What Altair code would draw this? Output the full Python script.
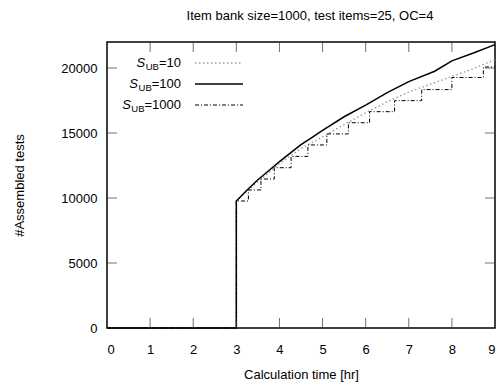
import altair as alt
import pandas as pd

TITLE = "Item bank size=1000, test items=25, OC=4"
X_TITLE = "Calculation time [hr]"
Y_TITLE = "#Assembled tests"

X_TICKS = [0, 1, 2, 3, 4, 5, 6, 7, 8, 9]
Y_TICKS = [0, 5000, 10000, 15000, 20000]

# S_UB=10 (dotted)
s10_t = [0, 3, 3, 3.25, 3.5, 3.75, 4, 4.5, 5, 5.5, 6, 6.5, 7, 7.5, 8, 8.5, 9]
s10_v = [0, 0, 9770, 10550, 11250, 11950, 12650, 13800, 14700, 15650, 16550, 17400, 18150, 18750, 19350, 19950, 20650]

# S_UB=100 (solid)
s100_t = [0, 3, 3, 3.25, 3.5, 3.75, 4, 4.25, 4.5, 4.75, 5, 5.5, 6, 6.5, 7, 7.6, 8.0, 8.5, 9]
s100_v = [0, 0, 9770, 10620, 11400, 12100, 12800, 13450, 14100, 14650, 15200, 16250, 17150, 18100, 18950, 19750, 20550, 21150, 21800]

# S_UB=1000 (dash-dot, step)
s1000_t = [0, 3, 3.28, 3.57, 3.88, 4.27, 4.66, 5.10, 5.60, 6.09, 6.67, 7.30, 8.00, 8.73, 9]
s1000_v = [0, 9770, 10620, 11460, 12330, 13200, 14080, 14930, 15790, 16640, 17490, 18340, 19270, 20080, 20080]

SERIES = ["S_UB=10", "S_UB=100", "S_UB=1000"]
LEGEND_EQ = ["=10", "=100", "=1000"]

FONT = "Liberation Sans"
W, H = 388, 286

def frame(ts, vs, name):
    return pd.DataFrame({"t": ts, "v": vs, "i": list(range(len(ts))), "series": name})

xscale = alt.Scale(domain=[0, 9], nice=False, zero=False)
yscale = alt.Scale(domain=[0, 22000], nice=False)

xaxis = alt.Axis(values=X_TICKS, tickSize=0, domain=False, grid=False,
                 labelPadding=15, labelFontSize=13, labelFont=FONT, labelColor="black",
                 title=X_TITLE, titleFont=FONT, titleFontSize=13, titleFontWeight="normal",
                 titlePadding=12, titleColor="black", format="d")
yaxis = alt.Axis(values=Y_TICKS, tickSize=0, domain=False, grid=False,
                 labelPadding=10, labelFontSize=13, labelFont=FONT, labelColor="black",
                 title=Y_TITLE, titleFont=FONT, titleFontSize=13, titleFontWeight="normal",
                 titlePadding=34, titleColor="black", format="d")

def X():
    return alt.X("t:Q", scale=xscale, axis=xaxis)

def Y():
    return alt.Y("v:Q", scale=yscale, axis=yaxis)

l10 = alt.Chart(frame(s10_t, s10_v, SERIES[0])).mark_line(
    color="#9a9a9a", strokeWidth=1.4, strokeDash=[1.5, 2.5]).encode(x=X(), y=Y(), order="i:Q")
l100 = alt.Chart(frame(s100_t, s100_v, SERIES[1])).mark_line(
    color="black", strokeWidth=1.5).encode(x=X(), y=Y(), order="i:Q")
l1000 = alt.Chart(frame(s1000_t, s1000_v, SERIES[2])).mark_line(
    color="black", strokeWidth=1, strokeDash=[4, 2, 1, 2], interpolate="step-after").encode(
    x=X(), y=Y(), order="i:Q")

xt = pd.DataFrame({"t": X_TICKS[1:-1]})
yt = pd.DataFrame({"v": Y_TICKS[1:]})
tick_col = "#333333"
xb = alt.Chart(xt).mark_tick(orient="vertical", size=10, thickness=1, color=tick_col).encode(
    x=X(), y=alt.value(H - 5))
xtp = alt.Chart(xt).mark_tick(orient="vertical", size=10, thickness=1, color=tick_col).encode(
    x=X(), y=alt.value(5))
yl = alt.Chart(yt).mark_tick(orient="horizontal", size=10, thickness=1, color=tick_col).encode(
    y=Y(), x=alt.value(5))
yr = alt.Chart(yt).mark_tick(orient="horizontal", size=10, thickness=1, color=tick_col).encode(
    y=Y(), x=alt.value(W - 5))

# manual legend (subscripts)
styles = [
    dict(color="#9a9a9a", strokeWidth=1.4, strokeDash=[1.5, 2.5]),
    dict(color="black", strokeWidth=1.5),
    dict(color="black", strokeWidth=1, strokeDash=[4, 2, 1, 2]),
]
row_y = [21, 42, 63]
text_right = 74
legend_layers = []
for name, eq, st, ry in zip(SERIES, LEGEND_EQ, styles, row_y):
    d = pd.DataFrame({"series": [name], "s": ["S"], "sub": ["UB"], "eq": [eq]})
    w_eq = 0.584 * 13 + 0.556 * 13 * (len(eq) - 1)
    w_ub = (0.722 + 0.667) * 9.5
    legend_layers.append(alt.Chart(d).mark_rule(**st).encode(
        x=alt.value(88), x2=alt.value(136), y=alt.value(ry)))
    legend_layers.append(alt.Chart(d).mark_text(align="right", baseline="middle", fontSize=13,
                                                font=FONT, color="black").encode(
        x=alt.value(text_right), y=alt.value(ry), text="eq:N"))
    legend_layers.append(alt.Chart(d).mark_text(align="right", baseline="middle", fontSize=9.5,
                                                font=FONT, color="black").encode(
        x=alt.value(text_right - w_eq), y=alt.value(ry + 4), text="sub:N"))
    legend_layers.append(alt.Chart(d).mark_text(align="right", baseline="middle", fontSize=13,
                                                font=FONT, fontStyle="italic", color="black").encode(
        x=alt.value(text_right - w_eq - w_ub - 0.5), y=alt.value(ry), text="s:N"))

chart = alt.layer(l10, l100, l1000, xb, xtp, yl, yr, *legend_layers).properties(
    width=W, height=H,
    title=alt.TitleParams(TITLE, font=FONT, fontSize=13, fontWeight="normal", color="black",
                          anchor="middle", dx=9, offset=19),
    padding={"left": 99, "top": 34, "right": 1, "bottom": 55},
    autosize=alt.AutoSizeParams(type="none"),
).configure_view(stroke="black", strokeWidth=1.5)

chart.save("out.html", embed_options={"renderer": "svg", "actions": False})
